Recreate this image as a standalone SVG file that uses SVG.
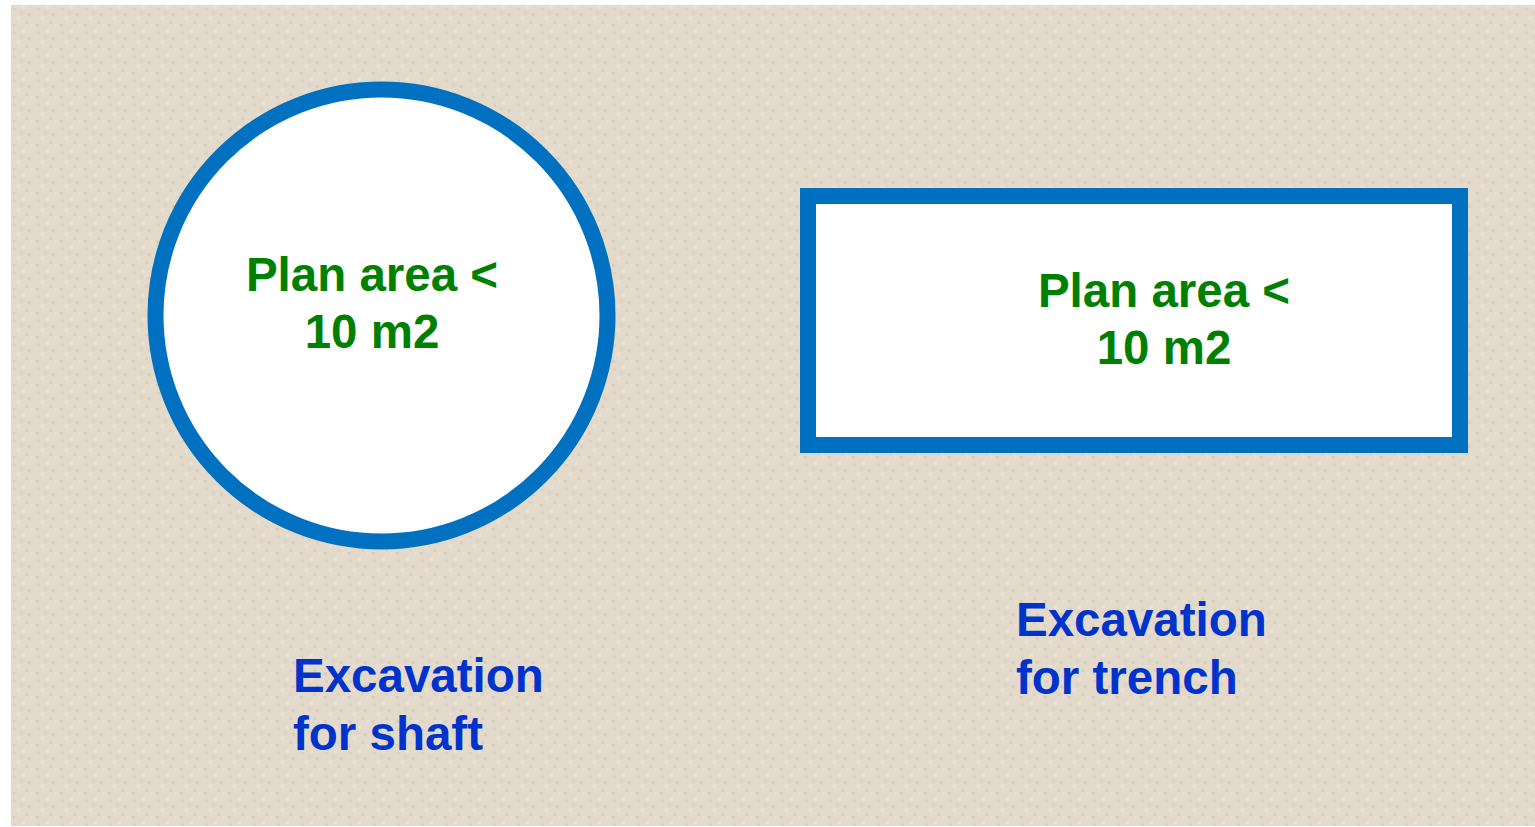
<svg xmlns="http://www.w3.org/2000/svg" width="1535" height="827" viewBox="0 0 1535 827">
  <style>
    .shape { fill: #FFFFFF; stroke: #0070C0; stroke-width: 16; }
    .area { font-family: "Liberation Sans", Arial, sans-serif; font-weight: bold; font-size: 47.5px; fill: #008000; text-anchor: middle; }
    .label { font-family: "Liberation Sans", Arial, sans-serif; font-weight: bold; font-size: 47.5px; fill: #0033CC; }
  </style>
  <defs>
    <pattern id="grain" x="11" y="5" width="24" height="24" patternUnits="userSpaceOnUse">
      <rect width="24" height="24" fill="#E3DACB"/>
      <rect x="2" y="3" width="3" height="3" fill="#DBD1C1"/>
      <rect x="11" y="1" width="3" height="3" fill="#E9E1D3"/>
      <rect x="17" y="8" width="3" height="3" fill="#D8CEBE"/>
      <rect x="6" y="12" width="3" height="3" fill="#E8E0D2"/>
      <rect x="14" y="16" width="3" height="3" fill="#DDD3C3"/>
      <rect x="20" y="19" width="3" height="3" fill="#E7DFD1"/>
      <rect x="1" y="19" width="3" height="3" fill="#DAD0C0"/>
      <rect x="9" y="6" width="3" height="3" fill="#DED4C5"/>
    </pattern>
  </defs>
  <rect x="0" y="0" width="1535" height="827" fill="#FFFFFF"/>
  <rect x="11" y="5" width="1524" height="821" fill="url(#grain)"/>

  <g id="shaft">
    <circle class="shape" cx="381.5" cy="315.5" r="226"/>
    <text class="area" x="372" y="291">Plan area &lt;</text>
    <text class="area" x="372" y="348">10 m2</text>
  </g>

  <g id="trench">
    <rect class="shape" x="808" y="196" width="652" height="249"/>
    <text class="area" x="1164" y="307">Plan area &lt;</text>
    <text class="area" x="1164" y="364">10 m2</text>
  </g>

  <g id="label-shaft">
    <text class="label" x="293" y="692">Excavation</text>
    <text class="label" x="293" y="750">for shaft</text>
  </g>

  <g id="label-trench">
    <text class="label" x="1016" y="636">Excavation</text>
    <text class="label" x="1016" y="694">for trench</text>
  </g>

  <g id="connectors"></g>
</svg>
